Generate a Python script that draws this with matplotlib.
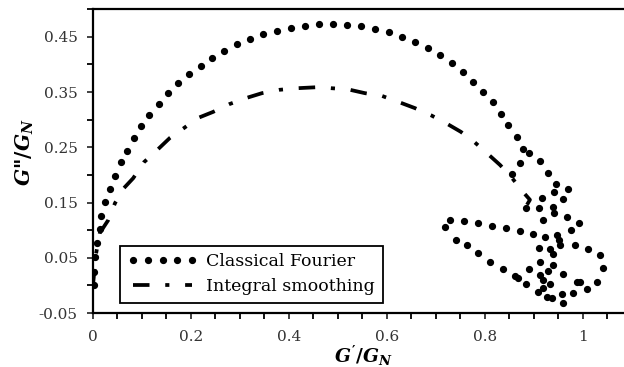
import matplotlib
matplotlib.use("Agg")
import matplotlib.pyplot as plt
from matplotlib.ticker import MultipleLocator, FixedLocator

plt.rcParams['font.family'] = 'DejaVu Serif'
plt.rcParams['mathtext.fontset'] = 'custom'
plt.rcParams['mathtext.it'] = 'DejaVu Serif:italic:bold'
plt.rcParams['mathtext.rm'] = 'DejaVu Serif:bold'

# classical Fourier result: G'/G_N and G''/G_N
fourier_x = [0.002, 0.002, 0.004, 0.008, 0.014, 0.016, 0.024, 0.035, 0.045, 0.057,
             0.069, 0.084, 0.098, 0.114, 0.135, 0.153, 0.173, 0.196, 0.220, 0.243,
             0.267, 0.294, 0.320, 0.347, 0.376, 0.404, 0.433, 0.461, 0.490, 0.518,
             0.547, 0.576, 0.604, 0.631, 0.657, 0.684, 0.708, 0.733, 0.755, 0.776,
             0.796, 0.816, 0.833, 0.847, 0.865, 0.878,
             0.890, 0.871, 0.912, 0.855, 0.929, 0.945, 0.969, 0.941, 0.959, 0.916,
             0.884, 0.910, 0.939, 0.941, 0.967, 0.918, 0.992, 0.729, 0.718, 0.757,
             0.786, 0.814, 0.843, 0.871, 0.898, 0.922, 0.947, 0.951, 0.976, 0.741,
             0.763, 0.910, 0.953, 0.984, 1.010, 0.786, 0.933, 0.939, 1.035, 0.810,
             0.912, 0.939, 1.041, 0.837, 0.890, 0.929, 0.959, 0.912, 0.861, 0.867,
             0.884, 0.918, 0.933, 0.988, 0.994, 1.029, 1.008, 0.908, 0.918, 0.927,
             0.937, 0.957, 0.980, 0.959]
fourier_y = [0.000, 0.025, 0.052, 0.077, 0.102, 0.126, 0.151, 0.175, 0.198, 0.223,
             0.243, 0.267, 0.289, 0.308, 0.328, 0.348, 0.366, 0.383, 0.397, 0.411,
             0.424, 0.437, 0.446, 0.455, 0.460, 0.466, 0.469, 0.473, 0.473, 0.471,
             0.469, 0.464, 0.458, 0.449, 0.440, 0.430, 0.417, 0.402, 0.386, 0.368,
             0.350, 0.332, 0.310, 0.290, 0.269, 0.247,
             0.240, 0.222, 0.225, 0.202, 0.204, 0.184, 0.175, 0.169, 0.156, 0.158,
             0.140, 0.140, 0.142, 0.131, 0.124, 0.119, 0.113, 0.119, 0.106, 0.117,
             0.113, 0.108, 0.104, 0.099, 0.093, 0.088, 0.091, 0.082, 0.100, 0.082,
             0.073, 0.068, 0.073, 0.073, 0.066, 0.059, 0.066, 0.057, 0.055, 0.043,
             0.043, 0.037, 0.032, 0.030, 0.030, 0.026, 0.021, 0.019, 0.017, 0.014,
             0.003, 0.010, 0.003, 0.006, 0.006, 0.006, -0.006, -0.012, -0.004, -0.021,
             -0.023, -0.015, -0.014, -0.032]

# integral smoothing result
smooth_x = [0.000, 0.006, 0.014, 0.031, 0.045, 0.063, 0.082, 0.104, 0.131, 0.157,
            0.186, 0.214, 0.245, 0.278, 0.312, 0.345, 0.380, 0.418, 0.463, 0.486,
            0.520, 0.555, 0.590, 0.624, 0.657, 0.690, 0.720, 0.751, 0.778, 0.806,
            0.831, 0.855, 0.878, 0.892, 0.886]
smooth_y = [0.000, 0.056, 0.095, 0.118, 0.149, 0.176, 0.194, 0.223, 0.245, 0.267,
            0.285, 0.303, 0.314, 0.328, 0.339, 0.348, 0.354, 0.357, 0.359, 0.357,
            0.355, 0.348, 0.343, 0.332, 0.321, 0.308, 0.294, 0.278, 0.260, 0.238,
            0.218, 0.195, 0.169, 0.155, 0.146]

x_ticks = [0, 0.2, 0.4, 0.6, 0.8, 1]
x_ticklabels = ['0', '0.2', '0.4', '0.6', '0.8', '1']
y_ticks = [-0.05, 0.05, 0.15, 0.25, 0.35, 0.45]
y_ticklabels = ['-0.05', '0.05', '0.15', '0.25', '0.35', '0.45']

fig = plt.figure(figsize=(6.24, 3.67), dpi=100)
ax = fig.add_axes([0.149, 0.147, 0.851, 0.828])

ax.plot(fourier_x, fourier_y, linestyle='none', marker='o', markersize=4.2,
        color='black', label='Classical Fourier')
ax.plot(smooth_x, smooth_y, color='black', linewidth=2.7,
        dashes=(4.4, 4.2, 1.1, 4.2), dash_capstyle='butt', label='Integral smoothing')

ax.set_xlim(0, 1.084)
ax.set_ylim(-0.05, 0.5)

ax.xaxis.set_major_locator(FixedLocator(x_ticks))
ax.set_xticklabels(x_ticklabels)
ax.xaxis.set_minor_locator(MultipleLocator(0.05))
ax.yaxis.set_major_locator(FixedLocator(y_ticks))
ax.set_yticklabels(y_ticklabels)
ax.yaxis.set_minor_locator(MultipleLocator(0.05))

ax.tick_params(which='both', direction='out', length=4, width=1.3, color='black')
ax.tick_params(axis='both', labelsize=11, colors='#333333', pad=7)
ax.tick_params(axis='x', pad=8)

for side in ['left', 'bottom', 'top']:
    ax.spines[side].set_linewidth(1.6)
ax.spines['right'].set_visible(False)

ax.set_xlabel(r"$G'/G_N$", fontsize=13.5)
ax.xaxis.set_label_coords(0.51, -0.1)
ax.xaxis.label.set_va('top')
ax.set_ylabel(r'$G$"$/G_N$', fontsize=14.5, fontweight='bold')
ax.yaxis.set_label_coords(-0.108, 0.53)

leg = ax.legend(loc='lower left', bbox_to_anchor=(0.051, 0.033), borderaxespad=0,
                numpoints=5, fontsize=12.5, fancybox=False, framealpha=1,
                edgecolor='black', handlelength=4.0, handletextpad=0.5,
                borderpad=0.45, labelspacing=0.45)
leg.get_frame().set_linewidth(1.3)

fig.savefig('out.png', dpi=100)
